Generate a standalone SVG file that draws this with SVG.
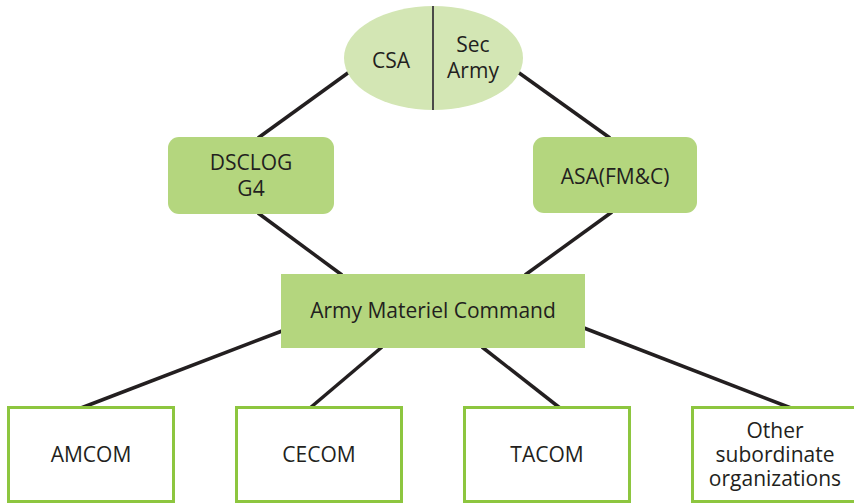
<svg xmlns="http://www.w3.org/2000/svg" width="854" height="503" viewBox="0 0 854 503">
<style>
.t{font-family:"Open Sans","Noto Sans","Liberation Sans",sans-serif;font-size:21px;fill:#231f20;text-anchor:middle;dominant-baseline:central}
.c{stroke:#231f20;stroke-width:3.5;fill:none}
.g{fill:#b4d67e}
.w{fill:#fff;stroke:#8dc63f;stroke-width:3}
</style>
<rect width="854" height="503" fill="#fff"/>
<g id="connectors">
<line class="c" x1="352" y1="70" x2="258" y2="138"/>
<line class="c" x1="515" y1="70" x2="610" y2="138"/>
<line class="c" x1="258" y1="213" x2="342" y2="275"/>
<line class="c" x1="612" y1="212" x2="525" y2="275"/>
<line class="c" x1="282" y1="331" x2="81" y2="408"/>
<line class="c" x1="382" y1="347" x2="310" y2="408"/>
<line class="c" x1="482" y1="347" x2="560" y2="408"/>
<line class="c" x1="584" y1="328" x2="791" y2="408"/>
</g>
<g id="top">
<ellipse cx="433.5" cy="58" rx="89.5" ry="52" fill="#d3e6b4"/>
<line x1="433" y1="6" x2="433" y2="110" stroke="#4a4a48" stroke-width="2"/>
<text class="t" x="391" y="60">CSA</text>
<text class="t"><tspan x="473" y="44">Sec</tspan><tspan x="473" y="70">Army</tspan></text>
</g>
<g id="dsclog">
<rect class="g" x="168" y="137" width="166" height="77" rx="11"/>
<text class="t"><tspan x="251" y="162">DSCLOG</tspan><tspan x="251" y="188">G4</tspan></text>
</g>
<g id="asa">
<rect class="g" x="533" y="137" width="164" height="76" rx="11"/>
<text class="t" x="615" y="176">ASA(FM&amp;C)</text>
</g>
<g id="amc">
<rect class="g" x="281" y="274" width="304" height="74"/>
<text class="t" x="433" y="310">Army Materiel Command</text>
</g>
<g id="amcom">
<rect class="w" x="8.5" y="407.5" width="165" height="94"/>
<text class="t" x="91" y="454">AMCOM</text>
</g>
<g id="cecom">
<rect class="w" x="236.5" y="407.5" width="165" height="94"/>
<text class="t" x="319" y="454">CECOM</text>
</g>
<g id="tacom">
<rect class="w" x="464.5" y="407.5" width="165" height="94"/>
<text class="t" x="547" y="454">TACOM</text>
</g>
<g id="other">
<rect class="w" x="692.5" y="407.5" width="165" height="94"/>
<text class="t"><tspan x="775" y="430">Other</tspan><tspan x="775" y="454">subordinate</tspan><tspan x="775" y="478">organizations</tspan></text>
</g>
</svg>
